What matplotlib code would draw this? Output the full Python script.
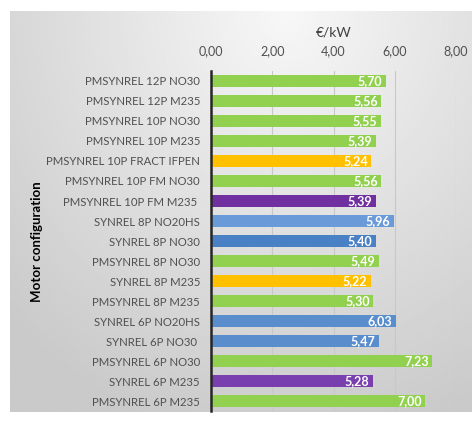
import numpy as np
import matplotlib.pyplot as plt

# data
configs = ['PMSYNREL 12P NO30', 'PMSYNREL 12P M235', 'PMSYNREL 10P NO30',
           'PMSYNREL 10P M235', 'PMSYNREL 10P FRACT IFPEN', 'PMSYNREL 10P FM NO30',
           'PMSYNREL 10P FM M235 ', 'SYNREL 8P NO20HS', 'SYNREL 8P NO30',
           'PMSYNREL 8P NO30', 'SYNREL 8P M235', 'PMSYNREL 8P M235',
           'SYNREL 6P NO20HS', 'SYNREL 6P NO30 ', 'PMSYNREL 6P NO30',
           'SYNREL 6P M235', 'PMSYNREL 6P M235']
cost = [5.70, 5.56, 5.55, 5.39, 5.24, 5.56, 5.39, 5.96, 5.40,
        5.49, 5.22, 5.30, 6.03, 5.47, 7.23, 5.28, 7.00]
bar_colors = ['#92D050', '#92D050', '#92D050', '#92D050', '#FFC000', '#92D050',
              '#7030A0', '#6A9BD8', '#4A80C4', '#92D050', '#FFC000', '#92D050',
              '#5A8DCC', '#5A8DCC', '#92D050', '#7A3FAE', '#92D050']
xticks = [0, 2, 4, 6, 8]

plt.rcParams['font.family'] = ['Lato', 'DejaVu Sans']

fig = plt.figure(figsize=(4.72, 4.23), dpi=100)

# gradient panel behind the chart
bg = fig.add_axes([10/472, 1-412/423, 1-10/472, (412-11)/423])
yy, xx = np.mgrid[0:1:200j, 0:1:200j]
r = np.sqrt(((xx - 0.6) / 0.85) ** 2 + (yy / 1.1) ** 2)
bg.imshow(0.97 - 0.18 * np.clip(r, 0, 1), cmap='gray', vmin=0, vmax=1,
          aspect='auto', extent=[0, 1, 1, 0])
bg.set_axis_off()

ax = fig.add_axes([211/472, 1-411/423, (456-211)/472, (411-71)/423])
ax.set_facecolor('none')
y = np.arange(len(configs))
ax.barh(y, cost, height=0.63, color=bar_colors, zorder=3)
for yi, v in zip(y, cost):
    ax.text(v - 0.12, yi, f'{v:.2f}'.replace('.', ','), ha='right', va='center',
            color='white', fontsize=9, fontweight='bold', zorder=4)

ax.set_xlim(0, 8)
ax.set_ylim(len(configs) - 0.5, -0.5)
ax.set_xticks(xticks)
ax.set_xticklabels([f'{t:.2f}'.replace('.', ',') for t in xticks], fontsize=9, color='#505050')
ax.xaxis.tick_top()
ax.xaxis.set_label_position('top')
ax.set_xlabel('€/kW', fontsize=10, color='#404040', labelpad=6)
ax.set_yticks(y)
ax.set_yticklabels(configs, fontsize=8.2, color='#505050')
ax.tick_params(axis='y', length=0, pad=8)
ax.tick_params(axis='x', length=0, pad=10)
ax.grid(axis='x', color='#C8C8C8', linewidth=0.8, zorder=0)
for s in ['top', 'right', 'bottom']:
    ax.spines[s].set_visible(False)
ax.spines['left'].set_color('#262626')
ax.spines['left'].set_linewidth(1.8)
ax.spines['left'].set_zorder(5)

fig.text(37/472, 1-242/423, 'Motor configuration', rotation=90, ha='center', va='center',
         fontsize=9.5, fontweight='bold', color='black')

fig.savefig('out.png', dpi=100)
